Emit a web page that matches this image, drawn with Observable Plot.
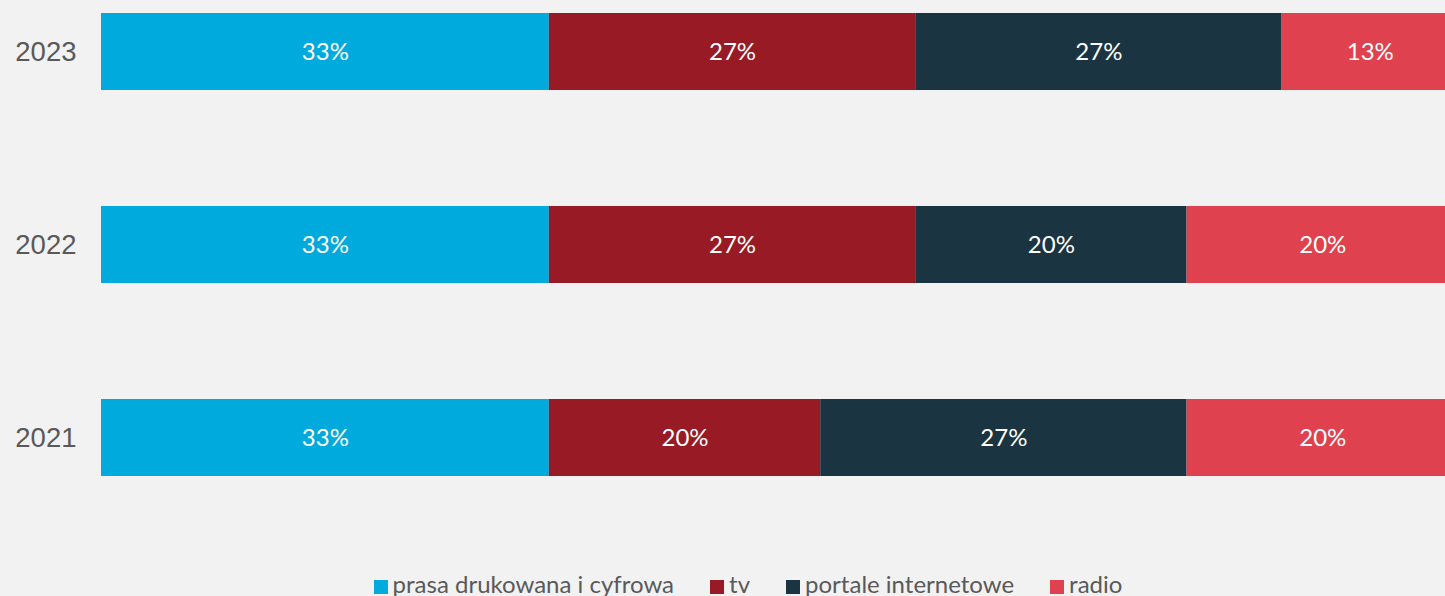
<!DOCTYPE html>
<html>
<head>
<meta charset="utf-8">
<script src="https://cdn.jsdelivr.net/npm/d3@7"></script>
<script src="https://cdn.jsdelivr.net/npm/@observablehq/plot@0.6"></script>
<style>
  html, body { margin: 0; padding: 0; background: #f2f2f2; overflow: hidden; width: 1445px; height: 596px; }
  #chart { width: 1460px; }
  #chart svg { display: block; max-width: none !important; width: 1460px; height: 488px; }
  #legend { display: flex; justify-content: center; width: 1445px; box-sizing: border-box; padding-left: 51px; padding-top: 83px; font-family: Lato, sans-serif; font-size: 24px; color: #595959; line-height: 26px; white-space: nowrap; }
  .item { display: flex; align-items: flex-start; margin-right: 36px; }
  .item:last-child { margin-right: 0; }
  .sw { width: 14px; height: 14px; margin-right: 5px; margin-top: 9px; }
</style>
</head>
<body>
<div id="chart"></div>
<div id="legend"></div>
<script>
const years = ["2023", "2022", "2021"];
const media = ["prasa drukowana i cyfrowa", "tv", "portale internetowe", "radio"];
const colors = ["#00aadc", "#971a24", "#1b3441", "#e0414e"];
// values per series, in the order of years
const prasa = [33, 33, 33];
const tv = [27, 27, 20];
const portale = [27, 20, 27];
const radio = [13, 20, 20];

const seriesValues = [prasa, tv, portale, radio];
const data = [];
years.forEach((y, i) => {
  media.forEach((m, j) => {
    data.push({year: y, media: m, value: seriesValues[j][i]});
  });
});

const chart = Plot.plot({
  width: 1460,
  height: 488,
  marginLeft: 101,
  marginRight: 2,
  marginTop: 0,
  marginBottom: 0,
  style: {background: "#f2f2f2", maxWidth: "none"},
  x: {domain: [0, 100], axis: null},
  y: {domain: years, paddingInner: 0.602, paddingOuter: 0.062, label: null},
  color: {domain: media, range: colors},
  marks: [
    Plot.barX(data, Plot.stackX({x: "value", y: "year", fill: "media", order: null})),
    Plot.text(data, Plot.stackX({x: "value", y: "year", z: "media", order: null, text: d => d.value + "%", fill: "white", fontSize: 24, fontFamily: "Lato, sans-serif"})),
    Plot.axisY({tickSize: 0, tickPadding: 25, fontSize: 27.5, fontFamily: "'Liberation Sans', Arial, sans-serif", color: "#595959", label: null})
  ]
});
document.getElementById("chart").appendChild(chart);

const legend = document.getElementById("legend");
media.forEach((m, i) => {
  const item = document.createElement("div");
  item.className = "item";
  const sw = document.createElement("span");
  sw.className = "sw";
  sw.style.background = colors[i];
  const t = document.createElement("span");
  t.textContent = m;
  item.appendChild(sw);
  item.appendChild(t);
  legend.appendChild(item);
});
</script>
</body>
</html>
